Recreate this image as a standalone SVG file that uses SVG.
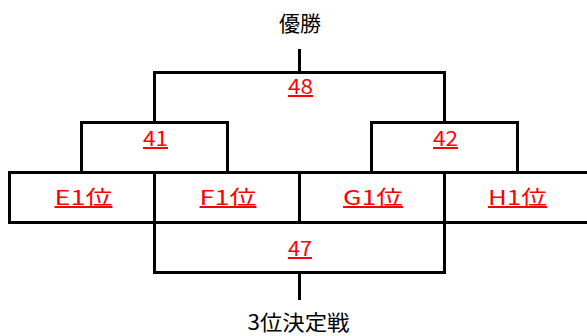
<svg xmlns="http://www.w3.org/2000/svg" width="587" height="336" viewBox="0 0 587 336">
<style>
  .ln { fill: none; stroke: #000; stroke-width: 3; }
  .cell { fill: #fff; stroke: #000; stroke-width: 3; }
  .t { font-family: "Noto Sans CJK JP", "Liberation Sans", sans-serif; text-anchor: middle; }
  .blk { fill: #000; font-size: 21px; }
  .red { fill: #ff0000; font-size: 20px; text-decoration: underline; }
</style>
<rect width="587" height="336" fill="#fff"/>
<g id="connectors">
  <path class="ln" d="M299.5,49 V72"/>
  <path class="ln" d="M154.5,122 V72.5 H444.5 V122"/>
  <path class="ln" d="M81.5,172 V122.5 H227.5 V172"/>
  <path class="ln" d="M371.5,172 V122.5 H517.5 V172"/>
  <path class="ln" d="M154.5,222 V272.5 H444.5 V222"/>
  <path class="ln" d="M299.5,272 V300"/>
</g>
<g id="node-champion"><text class="t blk" x="300" y="31">優勝</text></g>
<g id="node-48"><text class="t red" x="300.5" y="94" textLength="25" lengthAdjust="spacingAndGlyphs">48</text></g>
<g id="node-41"><text class="t red" x="155.5" y="146" textLength="25" lengthAdjust="spacingAndGlyphs">41</text></g>
<g id="node-42"><text class="t red" x="445.5" y="146" textLength="25" lengthAdjust="spacingAndGlyphs">42</text></g>
<g id="node-E1">
  <rect class="cell" x="9.5" y="172.5" width="145" height="50"/>
  <text class="t red" x="83.5" y="205" textLength="58" lengthAdjust="spacingAndGlyphs">E1位</text>
</g>
<g id="node-F1">
  <rect class="cell" x="154.5" y="172.5" width="145" height="50"/>
  <text class="t red" x="228" y="205" textLength="57" lengthAdjust="spacingAndGlyphs">F1位</text>
</g>
<g id="node-G1">
  <rect class="cell" x="299.5" y="172.5" width="145" height="50"/>
  <text class="t red" x="373" y="205" textLength="60" lengthAdjust="spacingAndGlyphs">G1位</text>
</g>
<g id="node-H1">
  <rect class="cell" x="444.5" y="172.5" width="150" height="50"/>
  <text class="t red" x="517.5" y="205" textLength="59" lengthAdjust="spacingAndGlyphs">H1位</text>
</g>
<g id="node-47"><text class="t red" x="300" y="256" textLength="24" lengthAdjust="spacingAndGlyphs">47</text></g>
<g id="node-third"><text class="t blk" x="298.5" y="330" font-size="20" textLength="102" lengthAdjust="spacingAndGlyphs">3位決定戦</text></g>
</svg>
